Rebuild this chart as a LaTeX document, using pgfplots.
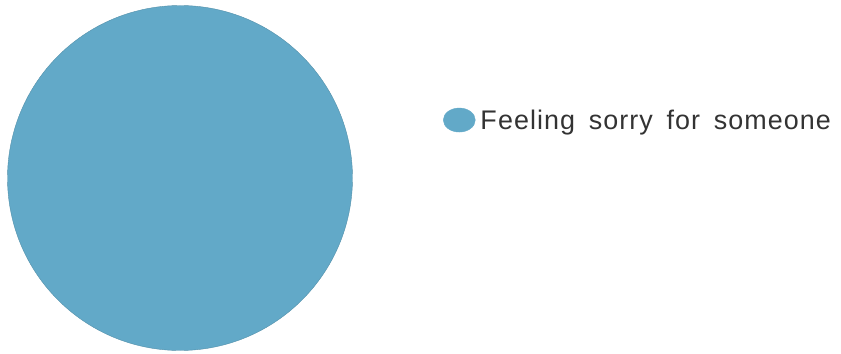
\documentclass[border=0pt]{standalone}
\usepackage{pgfplots}
\pgfplotsset{compat=1.18}
\usepackage{pgfplotstable}
\usepackage{fontspec}
\setmainfont{Liberation Sans}
\newfontfamily\legfont[LetterSpace=4,WordSpace=1.6]{Liberation Sans}
\definecolor{piecol}{RGB}{98,169,200}
\definecolor{txtcol}{RGB}{51,51,51}
\pgfplotstableread{
label value
1 100
}\piedata
\begin{document}
\begin{tikzpicture}
\useasboundingbox (0,0) rectangle (841bp,354bp);
\begin{axis}[
  hide axis, scale only axis,
  width=345bp, height=345bp,
  xmin=-1, xmax=1, ymin=-1, ymax=1,
  at={(7.5bp,3.5bp)}, anchor=south west,
  clip=false,
  legend style={draw=none, fill=none, inner sep=0pt, at={(1.262,0.668)}, anchor=west,
    font=\legfont\fontsize{27}{32}\selectfont, text=txtcol, legend cell align=left,
    nodes={inner xsep=5bp}},
  legend image code/.code={\fill[piecol] (0.3cm,0bp) ellipse[x radius=16bp, y radius=12bp];},
]
\pgfplotstablegetelem{0}{value}\of\piedata
\pgfmathsetmacro{\ang}{3.6*\pgfplotsretval}
\addplot[draw=none, forget plot] coordinates {(0,0)};
\fill[piecol, draw=piecol!85!black, line width=0.4pt] (axis cs:0,1) arc[start angle=90, end angle={90-\ang}, radius=1] -- cycle;
\addlegendimage{fill=piecol}
\addlegendentry{Feeling sorry for someone}
\end{axis}
\end{tikzpicture}
\end{document}
